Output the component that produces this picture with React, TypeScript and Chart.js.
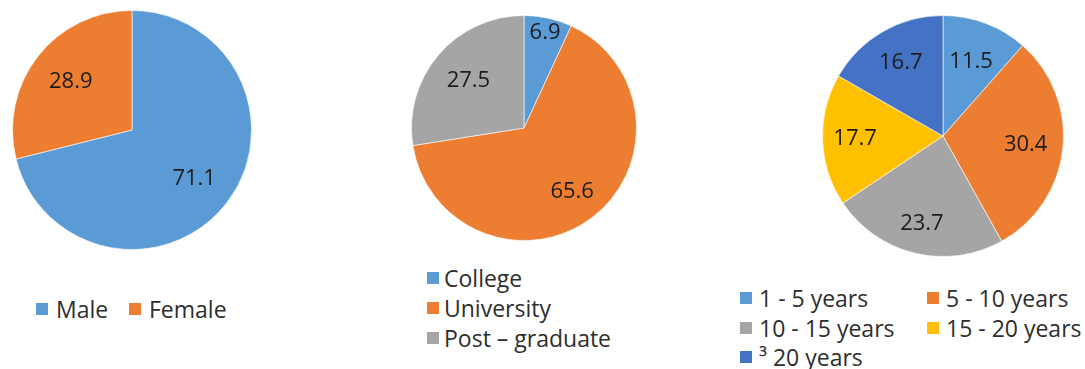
import React, { useEffect, useRef } from "react";
import { Chart, registerables } from "chart.js";

Chart.register(...registerables);

// ---- data ----
const genderLabels = ["Male", "Female"];
const genderValues = [71.1, 28.9];

const educationLabels = ["College", "University", "Post \u2013 graduate"];
const educationValues = [6.9, 65.6, 27.5];

const experienceLabels = ["1 - 5 years", "5 - 10 years", "10 - 15 years", "15 - 20 years", "\u00b3 20 years"];
const experienceValues = [11.5, 30.4, 23.7, 17.7, 16.7];

// ---- styles ----
const BLUE = "#5B9BD5";
const ORANGE = "#ED7D31";
const GRAY = "#A5A5A5";
const YELLOW = "#FFC000";
const DARKBLUE = "#4472C4";
const FONT = "'Open Sans', sans-serif";
const LABEL_COLOR = "#1c1c1c";
const LEGEND_COLOR = "#2e2e2e";

type PieSpec = {
  labels: string[];
  values: number[];
  colors: string[];
  cx: number;
  cy: number;
  r: number;
  labelFactors: number[];
};

const labelPlugin = {
  id: "sliceLabels",
  afterDatasetsDraw(chart: any) {
    const factors: number[] = chart.options.plugins.sliceLabels?.factors || [];
    const ctx = chart.ctx;
    const meta = chart.getDatasetMeta(0);
    const data = chart.data.datasets[0].data;
    ctx.save();
    ctx.font = `500 22px ${FONT}`;
    ctx.fillStyle = LABEL_COLOR;
    ctx.textAlign = "center";
    ctx.textBaseline = "middle";
    meta.data.forEach((arc: any, i: number) => {
      const p = arc.getProps(["x", "y", "startAngle", "endAngle", "outerRadius"], true);
      const mid = (p.startAngle + p.endAngle) / 2;
      const rr = p.outerRadius * (factors[i] ?? 0.68);
      ctx.fillText(String(data[i]), p.x + Math.cos(mid) * rr, p.y + Math.sin(mid) * rr);
    });
    ctx.restore();
  },
};

function Pie({ spec }: { spec: PieSpec }) {
  const ref = useRef<HTMLCanvasElement | null>(null);
  useEffect(() => {
    if (!ref.current) return;
    const chart = new Chart(ref.current, {
      type: "pie",
      data: {
        labels: spec.labels,
        datasets: [
          {
            data: spec.values,
            backgroundColor: spec.colors,
            borderColor: "rgba(255,255,255,0.6)",
            borderWidth: 1,
          },
        ],
      },
      options: {
        responsive: false,
        maintainAspectRatio: false,
        animation: false,
        layout: { padding: 0 },
        plugins: {
          legend: { display: false },
          tooltip: { enabled: false },
          sliceLabels: { factors: spec.labelFactors },
        } as any,
      },
      plugins: [labelPlugin],
    });
    return () => chart.destroy();
  }, [spec]);
  const size = spec.r * 2 + 2;
  return (
    <canvas
      ref={ref}
      width={size}
      height={size}
      style={{ position: "absolute", left: spec.cx - size / 2, top: spec.cy - size / 2, width: size, height: size }}
    />
  );
}

function LegendItem({ x, y, color, text, box = 12, gap = 8 }: { x: number; y: number; color: string; text: string; box?: number; gap?: number }) {
  return (
    <div
      style={{
        position: "absolute",
        left: x,
        top: y - 16,
        height: 32,
        display: "flex",
        alignItems: "center",
        whiteSpace: "nowrap",
        fontFamily: FONT,
        fontSize: 23,
        fontWeight: 500,
        color: LEGEND_COLOR,
      }}
    >
      <span style={{ display: "inline-block", width: box, height: box, background: color, marginRight: gap }} />
      <span>{text}</span>
    </div>
  );
}

const pie1: PieSpec = {
  labels: genderLabels,
  values: genderValues,
  colors: [BLUE, ORANGE],
  cx: 132,
  cy: 130,
  r: 119,
  labelFactors: [0.66, 0.65],
};
const pie2: PieSpec = {
  labels: educationLabels,
  values: educationValues,
  colors: [BLUE, ORANGE, GRAY],
  cx: 524,
  cy: 128,
  r: 112,
  labelFactors: [0.87, 0.71, 0.65],
};
const pie3: PieSpec = {
  labels: experienceLabels,
  values: experienceValues,
  colors: [BLUE, ORANGE, GRAY, YELLOW, DARKBLUE],
  cx: 943,
  cy: 136,
  r: 120,
  labelFactors: [0.66, 0.69, 0.75, 0.73, 0.7],
};

export default function App() {
  return (
    <div style={{ position: "fixed", left: 0, top: 0, width: 1085, height: 369, background: "#fff", overflow: "hidden" }}>
      <Pie spec={pie1} />
      <Pie spec={pie2} />
      <Pie spec={pie3} />

      <LegendItem x={36} y={309} color={BLUE} text={genderLabels[0]} />
      <LegendItem x={129} y={309} color={ORANGE} text={genderLabels[1]} />

      <LegendItem x={427} y={278} color={BLUE} text={educationLabels[0]} gap={5} />
      <LegendItem x={427} y={308} color={ORANGE} text={educationLabels[1]} gap={5} />
      <LegendItem x={427} y={338} color={GRAY} text={educationLabels[2]} gap={5} />

      <LegendItem x={740} y={298} color={BLUE} text={experienceLabels[0]} gap={7} />
      <LegendItem x={927} y={298} color={ORANGE} text={experienceLabels[1]} gap={7} />
      <LegendItem x={740} y={328} color={GRAY} text={experienceLabels[2]} gap={7} />
      <LegendItem x={927} y={328} color={YELLOW} text={experienceLabels[3]} gap={7} />
      <LegendItem x={740} y={357} color={DARKBLUE} text={experienceLabels[4]} gap={7} />
    </div>
  );
}
